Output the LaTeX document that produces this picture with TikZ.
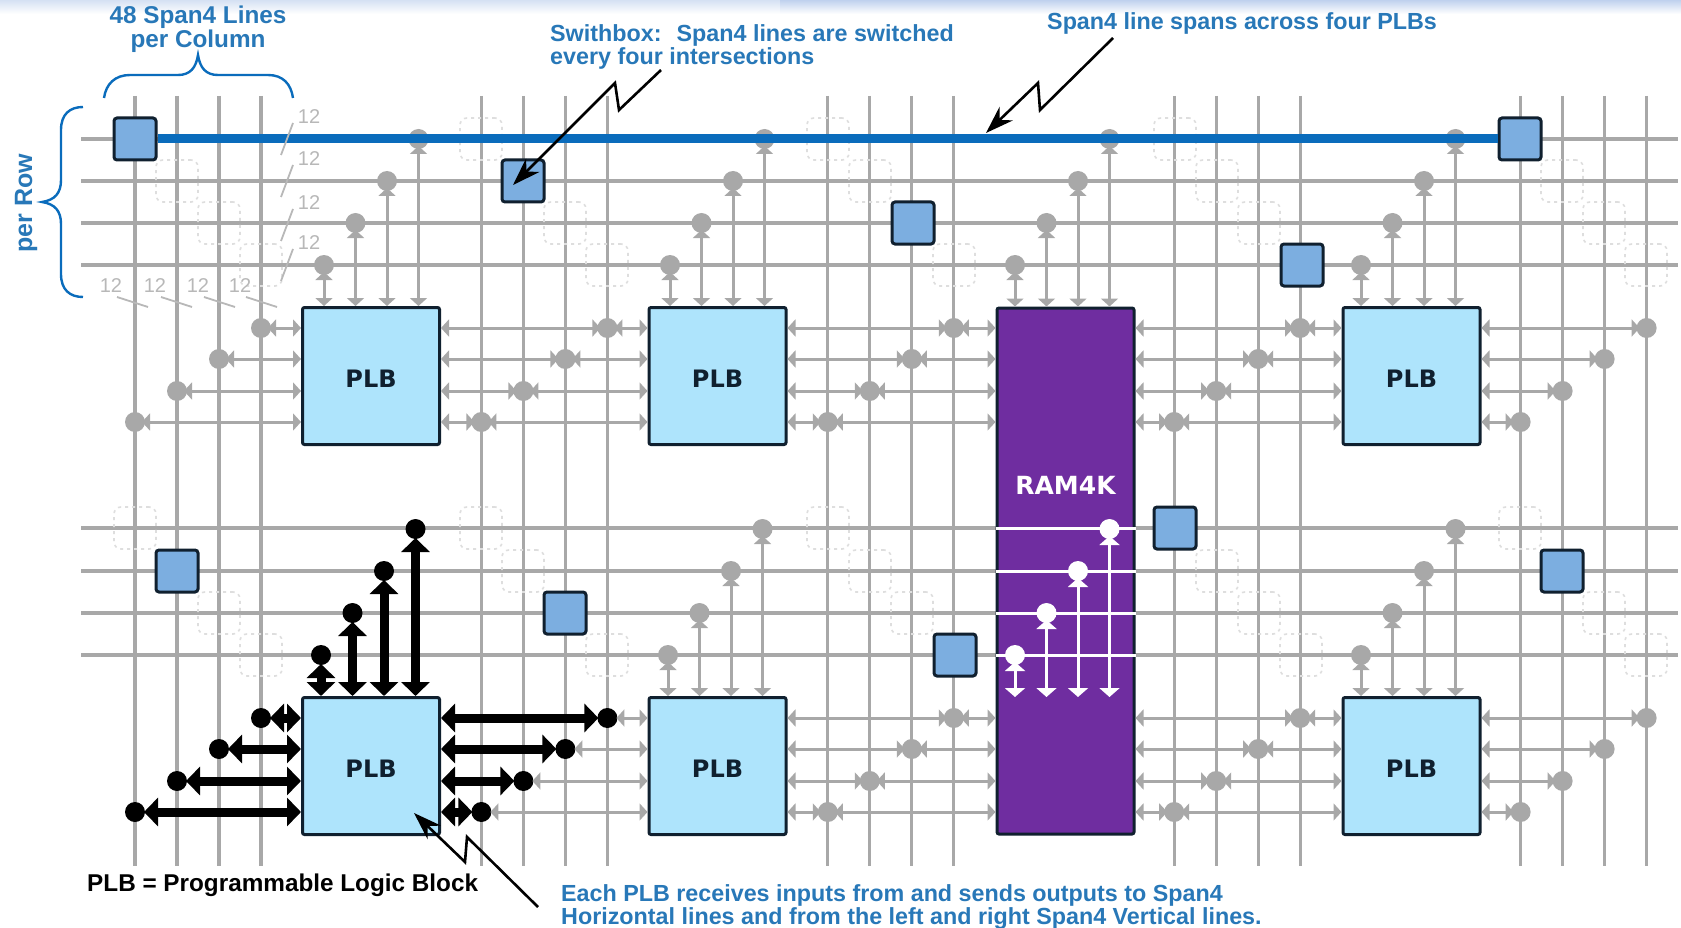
\documentclass[tikz,border=0pt]{standalone}
\usepackage{fontspec}
\setmainfont{Liberation Sans}
\newfontfamily\boxfont{DejaVu Sans}
\usetikzlibrary{arrows.meta}
\definecolor{wiregray}{HTML}{A8A8A8}
\definecolor{faintgray}{HTML}{DEDEDE}
\definecolor{markgray}{HTML}{B8B8B8}
\definecolor{spanblue}{HTML}{0A6CBC}
\definecolor{noteblue}{HTML}{2878B8}
\definecolor{plbfill}{HTML}{AEE4FC}
\definecolor{switchfill}{HTML}{7CAEE0}
\definecolor{ramfill}{HTML}{6F2DA0}
\definecolor{edgedark}{HTML}{10202F}
\definecolor{bandpale}{HTML}{D5E1F3}
\definecolor{bandblue}{HTML}{BFD1EE}
\begin{document}
\begin{tikzpicture}[
    x=1pt,
    y=-1pt,
    gridline/.style={draw=wiregray,line width=3.2pt},
    ramline/.style={draw=white,line width=3pt},
    dotgray/.style={circle,fill=wiregray,inner sep=0pt,minimum size=20pt,outer sep=-3pt},
    dotblack/.style={fill=black,minimum size=20pt,outer sep=-1pt},
    dotwhite/.style={fill=white,minimum size=20pt},
    wiregrayed/.style={draw=wiregray,line width=3pt,>={Triangle[length=8pt,width=17pt]},<->},
    wireblack/.style={draw=black,line width=9pt,>={Triangle[length=14pt,width=28pt]}},
    wirewhite/.style={draw=white,>={Triangle[length=9pt,width=20pt]}},
    hdotb0/.style={dotblack},
    hdotb1/.style={dotblack},
    rwireb0/.style={wireblack},
    lwireb1/.style={wireblack},
    vdotb0/.style={dotblack},
    vwireb0/.style={wireblack},
    vdotb2/.style={dotwhite},
    vwireb2/.style={wirewhite},
    plbbox/.style={
        draw=edgedark,
        line width=3pt,
        fill=plbfill,
        rounded corners=2pt,
        minimum size=137pt,
        text height=23pt,
        text depth=0pt,
        font=\boxfont\bfseries\fontsize{24}{26}\selectfont,
        text=edgedark
    },
    ramblock/.style={
        draw=edgedark,
        line width=3pt,
        fill=ramfill,
        rounded corners=2pt,
        minimum width=137pt,
        minimum height=526pt
    },
    switchbox/.style={
        draw=edgedark,
        line width=3pt,
        fill=switchfill,
        rounded corners=3pt,
        minimum size=42pt
    },
    dashbox/.style={
        draw=faintgray,
        line width=1.6pt,
        dash pattern=on 3pt off 4pt,
        rounded corners=7pt,
        minimum size=42pt
    },
    notetext/.style={
        text=noteblue,
        font=\bfseries\fontsize{23.3}{21.5}\selectfont,
        inner sep=0pt,
        align=left
    },
    shortnote/.style={
        text=noteblue,
        font=\bfseries\fontsize{24.3}{21.5}\selectfont,
        inner sep=0pt,
        align=center
    },
    marktext/.style={text=markgray,font=\fontsize{20}{20}\selectfont,inner sep=0pt},
    markline/.style={draw=markgray,line width=1.8pt},
    bracket/.style={draw=spanblue,line width=2.4pt},
    callout/.style={draw=black,line width=2.6pt,-{Stealth[length=28pt,width=19pt]}}
]

\useasboundingbox (0,0) rectangle (1681,928);
\fill[white] (0,0) rectangle (1681,928);
\shade[top color=bandpale,bottom color=white] (0,0) rectangle (780,14);
\shade[top color=bandblue,bottom color=white] (780,0) rectangle (1681,14);

\foreach \g in {0,...,4}
    \foreach \k in {0,...,3} {
        \coordinate (colt\g\k) at ({135+346.4*\g+42*\k},96);
        \coordinate (colb\g\k) at ({135+346.4*\g+42*\k},866);
        \draw[gridline] (colt\g\k) -- (colb\g\k);
    }
\foreach \i/\ry in {0/139,1/181,2/223,3/265,4/528,5/571,6/613,7/655} {
    \coordinate (rowl\i) at (81,\ry);
    \coordinate (rowr\i) at (1678,\ry);
    \draw[gridline] (rowl\i) -- (rowr\i);
}

\foreach \i/\cx/\cy in {
    0/177/181,1/219/223,2/261/265,3/481/139,4/565/223,5/607/265,
    6/828/139,7/870/181,8/954/265,9/1175/139,10/1217/181,11/1259/223,
    12/1562/181,13/1604/223,14/1646/265,15/135/528,16/219/613,17/261/655,
    18/481/528,19/523/571,20/607/655,21/828/528,22/870/571,23/912/613,
    24/1217/571,25/1259/613,26/1301/655,27/1520/528,28/1604/613,29/1646/655}
    \node[dashbox] (dash\i) at (\cx,\cy) {};

\foreach \rw/\cy in {t/376,b/766}
    \foreach \g/\cx in {0/371,1/717.5,3/1411.5} {
        \node[plbbox] (plb\rw\g) at (\cx,\cy) {PLB};
        \coordinate (entry\rw\g) at (plb\rw\g.north);
    }
\node[ramblock,alias=plbb2] (plbt2) at (1065.5,571) {};
\node[text=white,font=\boxfont\bfseries\fontsize{25}{27}\selectfont,inner sep=0pt] (ramlabel) at (1065.5,485) {RAM4K};
\coordinate (entryt2) at (plbt2.north);
\coordinate (entryb2) at (1065.5,697);
\foreach \i in {4,...,7}
    \draw[ramline] (plbt2.west |- rowl\i) -- (plbt2.east |- rowl\i);

\foreach \rw/\dy in {t/0,b/390}
    \foreach \g in {0,...,4}
        \foreach \k/\ry in {0/422,1/391,2/359,3/328} {
            \node[dotgray,hdot\rw\g/.try] (h\rw\g\k) at ({135+346.4*\g+42*\k},\ry+\dy) {};
            \ifnum\g>0
                \pgfmathtruncatemacro\pg{\g-1}
                \draw[wiregrayed,lwire\rw\g/.try] (plb\rw\pg.east |- h\rw\g\k) -- (h\rw\g\k);
            \fi
            \ifnum\g<4
                \draw[wiregrayed,rwire\rw\g/.try] (h\rw\g\k) -- (plb\rw\g.west |- h\rw\g\k);
            \fi
        }

\foreach \rw/\g/\sx/\dy in {t/0/324/0,t/1/670/0,t/2/1015/0,t/3/1361/0,b/0/321/390,b/1/668/390,b/2/1015/390,b/3/1361/390}
    \foreach \k in {0,...,3} {
        \node[dotgray,vdot\rw\g/.try] (v\rw\g\k) at ({\sx+31.5*\k},{265-42*\k+\dy}) {};
        \draw[wiregrayed,vwire\rw\g/.try] (v\rw\g\k) -- (v\rw\g\k |- entry\rw\g);
    }

\foreach \i/\cx/\cy in {0/135/139,1/523/181,2/913/223,3/1302/265,4/1520/139,5/1175/528,6/1562/571,7/177/571,8/565/613,9/955/655}
    \node[switchbox] (sw\i) at (\cx,\cy) {};
\draw[draw=spanblue,line width=9pt] (sw0) -- (sw4);

\foreach \i/\ry in {0/117,1/159,2/203,3/243} {
    \node[marktext] (rowcount\i) at (309,\ry) {12};
    \draw[markline] (293,{\ry+6}) -- (281,{\ry+38});
}
\foreach \i/\cx in {0/111,1/155,2/198,3/240} {
    \node[marktext] (colcount\i) at (\cx,286) {12};
    \draw[markline] ({\cx+6},297) -- ({\cx+37},307);
}

\draw[bracket] (104,98) .. controls (106,84) and (115,75) .. (130,75) -- (178,75)
    .. controls (190,75) and (196,68) .. (198,55) .. controls (200,68) and (206,75) .. (218,75)
    -- (268,75) .. controls (283,75) and (291,84) .. (293,98);
\draw[bracket] (83,107) .. controls (70,107) and (61,114) .. (61,130) -- (61,180)
    .. controls (61,193) and (55,200) .. (42,202) .. controls (55,204) and (61,211) .. (61,224)
    -- (61,274) .. controls (61,290) and (70,297) .. (83,297);

\node[shortnote] (columnnote) at (198,29) {48 Span4 Lines\\per Column};
\node[shortnote,rotate=90,font=\bfseries\fontsize{25}{22}\selectfont] (rownote) at (26,203) {per Row};
\node[notetext,anchor=west] (swithnote) at (550,47) {Swithbox:~ Span4 lines are switched\\every four intersections};
\node[notetext,anchor=west] (spannote) at (1047,23) {Span4 line spans across four PLBs};
\node[shortnote,anchor=west,text=black] (plbnote) at (87,885) {PLB = Programmable Logic Block};
\node[notetext,anchor=west,font=\bfseries\fontsize{23.3}{20}\selectfont] (eachnote) at (561,907) {Each PLB receives inputs from and sends outputs to Span4\\Horizontal lines and from the left and right Span4 Vertical lines.};

\coordinate (swithtail) at (661,70);
\coordinate (swithtip) at (513,185);
\coordinate (spantail) at (1113,38);
\coordinate (spantip) at (986,133);
\coordinate (eachtail) at (538,907);
\coordinate (eachtip) at (414,813);
\draw[callout] (swithtail) -- (619,110) -- (615,83) -- (swithtip);
\draw[callout] (spantail) -- (1040,110) -- (1038,83) -- (spantip);
\draw[callout] (eachtail) -- (467,837) -- (465,862) -- (eachtip);

\end{tikzpicture}
\end{document}
